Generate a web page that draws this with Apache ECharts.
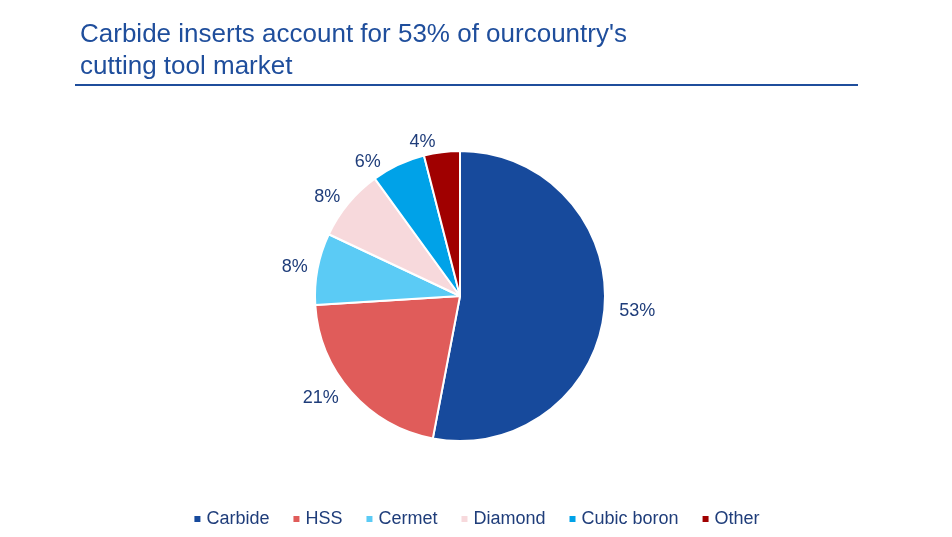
<!DOCTYPE html><html><head><meta charset="utf-8"><script src="https://cdn.jsdelivr.net/npm/echarts@6/dist/echarts.min.js"></script>
<style>body{margin:0}#c{width:952px;height:537px}</style></head><body><div id="c"></div><script>
const categories=['Carbide','HSS','Cermet','Diamond','Cubic boron','Other'];
const values=[53,21,8,8,6,4];
const colors=['#174A9C','#E05C5A','#5BCBF5','#F7D9DC','#00A2E8','#A00000'];
const chart=echarts.init(document.getElementById('c'));
chart.setOption({
 title:{text:"Carbide inserts account for 53% of ourcountry's\ncutting tool market",left:75,top:14,textStyle:{fontFamily:'Liberation Sans',fontSize:26,fontWeight:'normal',color:'#1F4E9C',lineHeight:32}},
 graphic:[{type:'rect',shape:{x:75,y:84,width:783,height:2},style:{fill:'#1F4E9C'}}],
 legend:{bottom:4,left:'center',itemWidth:8,itemHeight:8,icon:'rect',itemGap:22,textStyle:{fontFamily:'Liberation Sans',fontSize:18,color:'#1F3D7A'},data:categories},
 series:[{type:'pie',center:[460,296],radius:145,startAngle:90,clockwise:true,
  label:{show:true,position:'outside',formatter:'{c}%',fontFamily:'Liberation Sans',fontSize:18,color:'#1F3D7A'},
  labelLine:{show:false,length:10,length2:0},
  itemStyle:{borderColor:'#fff',borderWidth:2},
  data:categories.map((n,i)=>({name:n,value:values[i],itemStyle:{color:colors[i]}}))}]
});
</script></body></html>
